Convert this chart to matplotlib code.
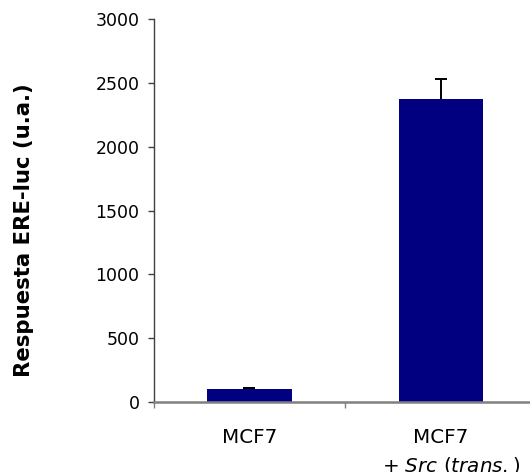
import matplotlib
matplotlib.use("Agg")
import matplotlib.pyplot as plt

categories = ["MCF7", "MCF7"]
sublabels = ["", "+ $\\mathit{Src\\ (trans.)}$"]
values = [100, 2370]
errors = [12, 160]
yticks = [0, 500, 1000, 1500, 2000, 2500, 3000]

plt.rcParams['font.family'] = ['DejaVu Sans']
plt.rcParams['mathtext.fontset'] = 'custom'
plt.rcParams['mathtext.rm'] = 'DejaVu Sans'
plt.rcParams['mathtext.it'] = 'DejaVu Sans:italic'

fig = plt.figure(figsize=(5.30, 4.72), dpi=100)
ax = fig.add_axes([153.5/530, 70/472, (537-153.5)/530, (402-19)/472])

x = [1, 2]
ax.bar(x, values, width=0.44, color='#000080', zorder=2)
tops = [v + e for v, e in zip(values, errors)]
ax.vlines(x, values, tops, color='black', linewidth=1.4, zorder=3)
ax.errorbar(x, tops, yerr=0, fmt='none', ecolor='black', capsize=4,
            capthick=1.4, elinewidth=0, zorder=3)

ax.set_xlim(0.5, 2.5)
ax.set_ylim(0, 3000)
ax.set_yticks(yticks)
ax.set_yticklabels([str(v) for v in yticks], fontsize=12.5)
ax.set_xticks(x)
ax.set_xticklabels(categories, fontsize=14.3)
ax.set_xticks([0.5, 1.5, 2.5], minor=True)
ax.tick_params(axis='x', which='major', length=0, pad=19)
ax.tick_params(axis='x', which='minor', length=4, width=1, color='#808080', direction='out')
ax.tick_params(axis='y', length=4, width=1, color='#404040', pad=6)

for xi, s in zip(x, sublabels):
    if s:
        ax.annotate(s, xy=(xi, 0), xycoords=('data', 'axes fraction'),
                    xytext=(7, -38.5), textcoords='offset points',
                    ha='center', va='top', fontsize=14.3)

for side in ['top', 'right']:
    ax.spines[side].set_visible(False)
ax.spines['left'].set_color('#404040')
ax.spines['left'].set_linewidth(1)
ax.spines['bottom'].set_color('#808080')
ax.spines['bottom'].set_linewidth(1.8)

ax.set_ylabel('Respuesta ERE-luc (u.a.)', fontsize=15.3, fontweight='bold')
ax.yaxis.set_label_coords((34 - 153.5) / 383.5, (402 - 230) / 383)

fig.savefig('out.png', dpi=100)
